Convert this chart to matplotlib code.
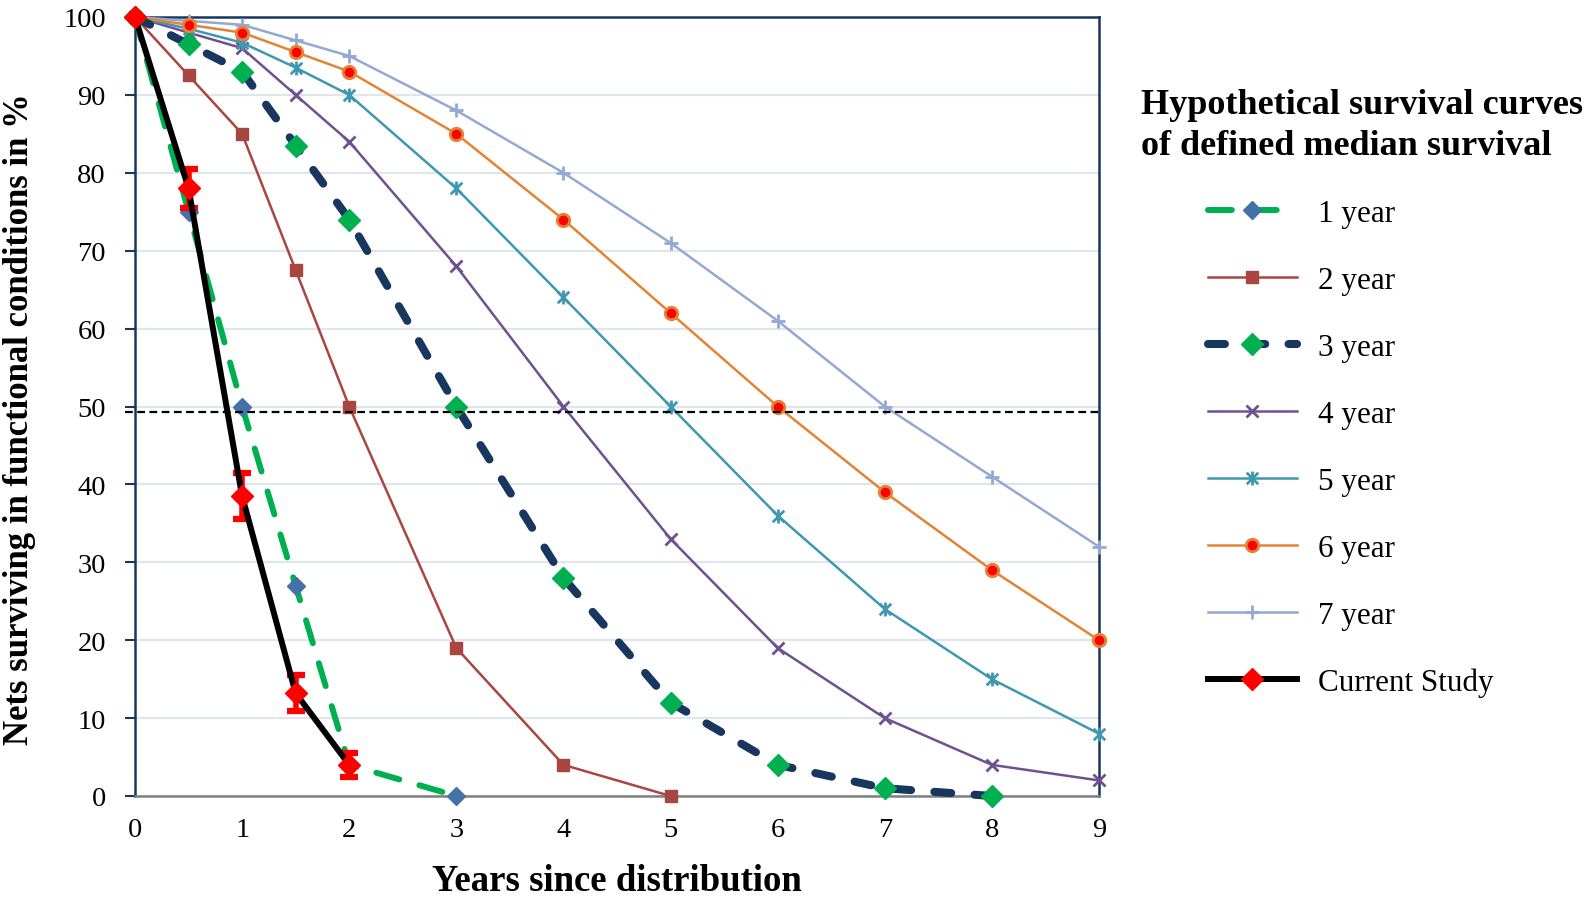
import matplotlib
matplotlib.use('Agg')

import matplotlib.pyplot as plt
from matplotlib.path import Path

# ---------------- DATA ----------------
years_1 = [0, 0.5, 1, 1.5, 2, 3]
surv_1 = [100, 75, 50, 27, 4, 0]

years_2 = [0, 0.5, 1, 1.5, 2, 3, 4, 5]
surv_2 = [100, 92.5, 85, 67.5, 50, 19, 4, 0]

years_3 = [0, 0.5, 1, 1.5, 2, 3, 4, 5, 6, 7, 8]
surv_3 = [100, 96.5, 93, 83.5, 74, 50, 28, 12, 4, 1, 0]

years_long = [0, 0.5, 1, 1.5, 2, 3, 4, 5, 6, 7, 8, 9]
surv_4 = [100, 98, 96, 90, 84, 68, 50, 33, 19, 10, 4, 2]
surv_5 = [100, 98.5, 96.7, 93.5, 90, 78, 64, 50, 36, 24, 15, 8]
surv_6 = [100, 99, 98, 95.5, 93, 85, 74, 62, 50, 39, 29, 20]
surv_7 = [100, 99.5, 99, 97, 95, 88, 80, 71, 61, 50, 41, 32]

study_years = [0, 0.5, 1, 1.5, 2]
study_surv = [100, 78, 38.5, 13.2, 4]
study_err = [0, 2.5, 3, 2.3, 1.5]

median_line = 49.3
x_ticks = list(range(0, 10))
y_ticks = list(range(0, 101, 10))
labels = ["1 year", "2 year", "3 year", "4 year", "5 year", "6 year", "7 year", "Current Study"]
# --------------------------------------

plt.rcParams['font.family'] = ['Liberation Serif', 'DejaVu Serif']

navy = '#17375E'

# asterisk-like marker (x with vertical bar)
star_marker = Path(
    [(-1, -1), (1, 1), (-1, 1), (1, -1), (0, -1.2), (0, 1.2)],
    [Path.MOVETO, Path.LINETO, Path.MOVETO, Path.LINETO, Path.MOVETO, Path.LINETO]
)

fig = plt.figure(figsize=(15.94, 9.03), dpi=100)
ax = fig.add_axes([135 / 1594, 1 - 797 / 903, (1099 - 135) / 1594, (797 - 18) / 903])

handles = []

h, = ax.plot(years_1, surv_1, color='#00B050', lw=4.3, dashes=(4, 3.5),
             dash_capstyle='round', marker='D', ms=9.5, mfc='#4472A8', mec='#4472A8',
             zorder=6, clip_on=False)
handles.append(h)

h, = ax.plot(years_2, surv_2, color='#A84641', lw=1.8, marker='s', ms=9,
             zorder=4, clip_on=False)
handles.append(h)

h, = ax.plot(years_3, surv_3, color=navy, lw=5.8, dashes=(2.1, 2.9),
             dash_capstyle='round', marker='D', ms=11.5, mfc='#00B050', mec='#00B050',
             zorder=5, clip_on=False)
handles.append(h)

h, = ax.plot(years_long, surv_4, color='#6F518F', lw=1.8, marker='x', ms=9, mew=2,
             zorder=4, clip_on=False)
handles.append(h)

h, = ax.plot(years_long, surv_5, color='#3E98B0', lw=1.8, marker=star_marker, ms=10, mew=2,
             zorder=4, clip_on=False)
handles.append(h)

h, = ax.plot(years_long, surv_6, color='#E28436', lw=1.8, marker='o', ms=9,
             mfc='#FF0000', mec='#E28436', mew=2, zorder=4, clip_on=False)
handles.append(h)

h, = ax.plot(years_long, surv_7, color='#93A9D3', lw=1.8, marker='+', ms=10, mew=2,
             zorder=3, clip_on=False)
handles.append(h)

# current study with error bars
ax.errorbar(study_years, study_surv, yerr=study_err, fmt='none', ecolor='#FF0000',
            elinewidth=4, capsize=6.5, capthick=4.5, zorder=7)
h, = ax.plot(study_years, study_surv, color='black', lw=4.3, marker='D', ms=11,
             mfc='#FF0000', mec='#FF0000', zorder=8, clip_on=False)
handles.append(h)

# median reference line
ax.axhline(median_line, xmin=-0.01, xmax=1, color='black', lw=1.6, ls=(0, (3.5, 2)),
           zorder=6, clip_on=False)

ax.set_xlim(0, 9)
ax.set_ylim(0, 100)
ax.set_xticks(x_ticks)
ax.set_yticks(y_ticks)

ax.grid(axis='y', color='#E1E5EC', lw=1.6, zorder=0)
ax.set_axisbelow(True)

for side in ['left', 'top', 'right']:
    ax.spines[side].set_color(navy)
    ax.spines[side].set_linewidth(1.8)
ax.spines['bottom'].set_color('#808080')
ax.spines['bottom'].set_linewidth(1.8)

ax.tick_params(axis='y', direction='out', length=7, width=1.5, color=navy,
               labelsize=20.5, pad=14)
ax.tick_params(axis='x', length=0, labelsize=20.5, pad=15)

ax.set_xlabel("Years since distribution", fontsize=26.5, fontweight='bold', labelpad=15)
ax.set_ylabel("Nets surviving in functional conditions in %", fontsize=25,
              fontweight='bold')
ax.yaxis.set_label_coords(-0.103, 0.485)

fig.text(1141 / 1594, 1 - 126 / 903,
         "Hypothetical survival curves\nof defined median survival",
         fontsize=26, fontweight='bold', ha='left', va='center', linespacing=1.33)

fig.legend(handles, labels, loc='upper left', bbox_to_anchor=(1208 / 1594, 1 - 200 / 903),
           frameon=False, fontsize=22.4, handlelength=2.85, handletextpad=0.7,
           labelspacing=1.22, borderpad=0, borderaxespad=0)

fig.savefig("out.png", dpi=100)
